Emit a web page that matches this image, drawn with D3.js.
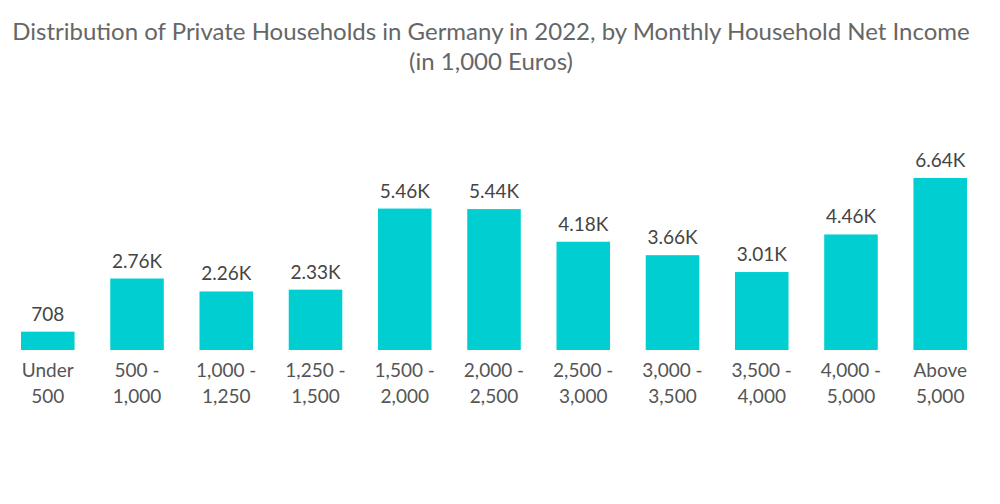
<!DOCTYPE html>
<html>
<head>
<meta charset="utf-8">
<script src="https://cdn.jsdelivr.net/npm/d3@7"></script>
<style>
  body { margin: 0; background: #fff; }
  text { font-family: Lato, "Open Sans", sans-serif; }
</style>
</head>
<body>
<div id="chart"></div>
<script>
const categories = [
  ["Under", "500"], ["500 -", "1,000"], ["1,000 -", "1,250"], ["1,250 -", "1,500"],
  ["1,500 -", "2,000"], ["2,000 -", "2,500"], ["2,500 -", "3,000"], ["3,000 -", "3,500"],
  ["3,500 -", "4,000"], ["4,000 -", "5,000"], ["Above", "5,000"]
];
const values = [708, 2760, 2260, 2330, 5460, 5440, 4180, 3660, 3010, 4460, 6640];
const valueLabels = ["708", "2.76K", "2.26K", "2.33K", "5.46K", "5.44K", "4.18K", "3.66K", "3.01K", "4.46K", "6.64K"];
const titleLines = [
  "Distribution of Private Households in Germany in 2022, by Monthly Household Net Income",
  "(in 1,000 Euros)"
];

const width = 1000, height = 504;
const svg = d3.select("#chart").append("svg")
  .attr("width", width)
  .attr("height", height);

// Title
svg.append("g").selectAll("text")
  .data(titleLines)
  .enter()
  .append("text")
  .attr("x", 491)
  .attr("y", (d, i) => 40 + i * 30)
  .attr("text-anchor", "middle")
  .attr("font-size", 24)
  .attr("fill", "#666")
  .text(d => d);

const idx = d3.range(values.length);
const x = d3.scaleBand()
  .domain(idx)
  .range([21, 967])
  .paddingInner(0.4)
  .paddingOuter(0);

const y = d3.scaleLinear()
  .domain([0, 6640])
  .range([350, 178]);

// Bars
svg.append("g").selectAll("rect")
  .data(idx)
  .enter()
  .append("rect")
  .attr("x", i => x(i))
  .attr("y", i => y(values[i]))
  .attr("width", x.bandwidth())
  .attr("height", i => y(0) - y(values[i]))
  .attr("fill", "#00CED1");

// Value labels
svg.append("g").selectAll("text")
  .data(idx)
  .enter()
  .append("text")
  .attr("x", i => x(i) + x.bandwidth() / 2)
  .attr("y", i => y(values[i]) - 11)
  .attr("text-anchor", "middle")
  .attr("font-size", 19)
  .attr("fill", "#444")
  .text(i => valueLabels[i]);

// Category labels (two lines)
const cat = svg.append("g").selectAll("text")
  .data(idx)
  .enter()
  .append("text")
  .attr("text-anchor", "middle")
  .attr("font-size", 19)
  .attr("fill", "#555");

cat.selectAll("tspan")
  .data(i => categories[i].map(t => ({ t, i })))
  .enter()
  .append("tspan")
  .attr("x", d => x(d.i) + x.bandwidth() / 2)
  .attr("y", (d, j) => 377 + j * 26)
  .text(d => d.t);
</script>
</body>
</html>
